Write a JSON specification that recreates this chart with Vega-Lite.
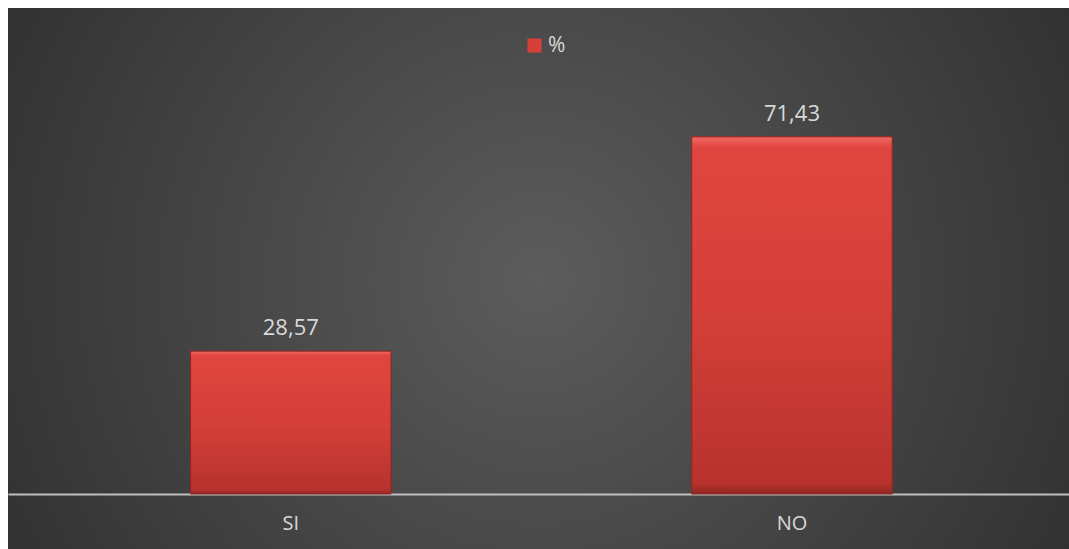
{
  "$schema": "https://vega.github.io/schema/vega-lite/v6.json",
  "width": 1061,
  "height": 541,
  "padding": {"left": 8, "top": 8, "right": 0, "bottom": 0},
  "autosize": {"type": "none"},
  "background": "#ffffff",
  "data": {"values": [
    {"cat": "SI", "pct": 28.57, "label": "28,57"},
    {"cat": "NO", "pct": 71.43, "label": "71,43"}
  ]},
  "encoding": {
    "x": {"field": "cat", "type": "nominal", "sort": ["SI", "NO"],
      "scale": {"paddingInner": 0.6, "paddingOuter": 0.3585, "align": 0.508},
      "axis": {"orient": "bottom", "offset": -55, "title": null, "domainColor": "#bfbfbf", "domainWidth": 2,
        "ticks": false, "labelAngle": 0, "labelColor": "#d9d9d9", "labelFont": "Open Sans", "labelFontSize": 20,
        "labelPadding": 19, "grid": false}},
    "y": {"field": "pct", "type": "quantitative", "scale": {"domain": [-11, 97.2], "nice": false, "zero": false}, "axis": null}
  },
  "layer": [
    {
      "mark": {"type": "bar"},
      "encoding": {
        "color": {"datum": "%", "type": "nominal", "scale": {"range": ["#d6403a"]},
          "legend": {"orient": "none", "legendX": 516, "legendY": 27, "title": null, "symbolType": "square",
            "symbolSize": 200, "labelColor": "#d9d9d9", "labelFont": "Open Sans", "labelFontSize": 21, "labelOffset": 3}}
      }
    },
    {
      "mark": {"type": "bar", "stroke": "#8f2420", "strokeWidth": 1,
        "color": {"gradient": "linear", "x1": 0, "y1": 0, "x2": 0, "y2": 1,
          "stops": [{"offset": 0, "color": "#f06a63"}, {"offset": 0.03, "color": "#e0463f"}, {"offset": 0.5, "color": "#d43f39"}, {"offset": 0.97, "color": "#b8322d"}, {"offset": 1, "color": "#8f2622"}]}}
    },
    {
      "mark": {"type": "text", "dy": -16, "baseline": "alphabetic", "font": "Open Sans", "fontSize": 22, "color": "#d9d9d9"},
      "encoding": {"text": {"field": "label", "type": "nominal"}}
    }
  ],
  "config": {
    "view": {"stroke": null,
      "fill": {"gradient": "radial", "x1": 0.5, "y1": 0.5, "r1": 0, "x2": 0.5, "y2": 0.5, "r2": 0.72,
        "stops": [{"offset": 0, "color": "#5c5c5c"}, {"offset": 1, "color": "#262626"}]}}
  }
}
